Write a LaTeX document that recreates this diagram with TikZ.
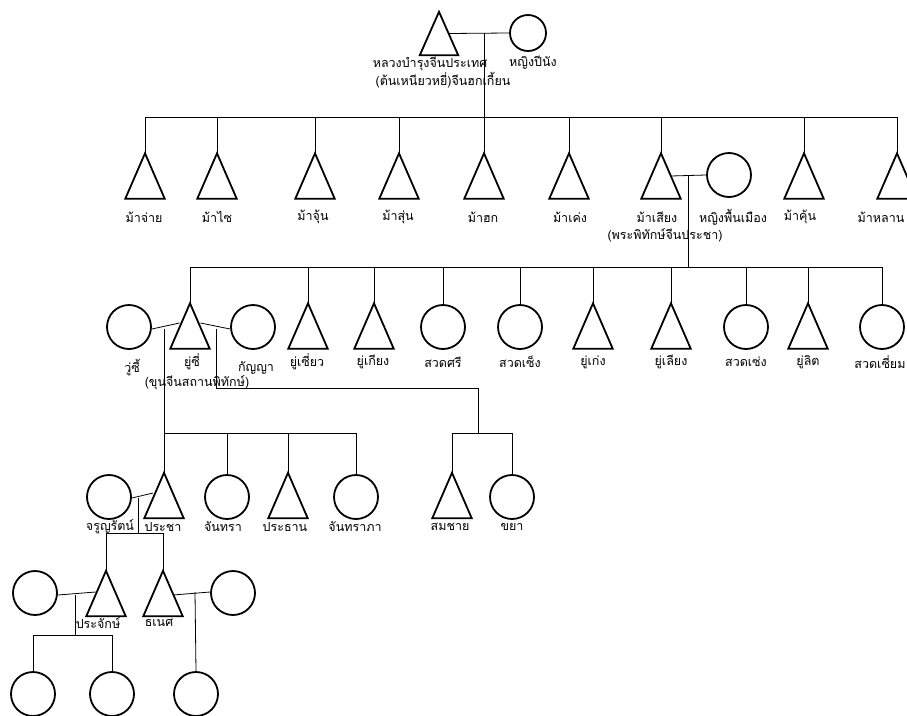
\documentclass[tikz,border=0pt]{standalone}
\usepackage{fontspec}
\newfontfamily\thaifont[Script=Thai]{Loma}
\usetikzlibrary{calc}
\begin{document}
\begin{tikzpicture}[x=1pt,y=-1pt,
  tri/.style={inner sep=0, minimum width=39pt, minimum height=45pt},
  trismall/.style={inner sep=0, minimum width=38pt, minimum height=43pt},
  circ/.style={circle, draw, line width=1.8pt, minimum size=44pt, inner sep=0},
  circsmall/.style={circ, minimum size=36pt},
  lbl/.style={font=\thaifont\fontsize{12.5}{14}\selectfont, inner sep=0},
  link/.style={line width=0.8pt},
  shapeline/.style={line width=1.8pt, line join=miter}
]
\useasboundingbox (0,0) rectangle (907,715);

% ---------- generation 0
\node[trismall] (p0) at (439,33.5) {};
\node[circsmall] (w0) at (528,33) {};
\node[lbl] (lp0a) at (430,64) {หลวงบำรุงจีนประเทศ};
\node[lbl] (lp0b) at (443,80) {(ต้นเหนียวหยี่)จีนฮกเกี้ยน};
\node[lbl] (lw0) at (533,63) {หญิงปีนัง};
\coordinate (m0) at (484,33);
\coordinate (b1) at (0,117);

% ---------- generation 1
\foreach \n/\x in {c1/145,c2/217,c3/315,c4/399,c5/484,c6/569,c7/661,c9/804,c10/897}
  \node[tri] (\n) at (\x,176) {};
\node[circ] (w1) at (729,175) {};
\foreach \n/\x/\t in {c1/144/ม้าจ่าย,c2/217/ม้าไซ,c3/313/ม้าจุ้น,c4/398/ม้าสุ่น,c5/483/ม้าฮก,c6/570/ม้าเค่ง,c7/657/ม้าเสียง,w1/733/หญิงพื้นเมือง,c9/800/ม้าคุ้น,c10/881/ม้าหลาน}
  \node[lbl] (l\n) at (\x,217) {\t};
\node[lbl] (lc7b) at (665,235) {(พระพิทักษ์จีนประชา)};
\coordinate (m1) at (688,176);
\coordinate (b2) at (0,267);

% ---------- generation 2
\node[circ] (k1) at (129,327) {};
\node[tri] (k2) at (190,326) {};
\node[circ] (k3) at (253,327) {};
\node[tri] (k4) at (308,326) {};
\node[tri] (k5) at (374,326) {};
\node[circ] (k6) at (443,327) {};
\node[circ] (k7) at (520,327) {};
\node[tri] (k8) at (593,326) {};
\node[tri] (k9) at (671,326) {};
\node[circ] (k10) at (746,327) {};
\node[tri] (k11) at (808,326) {};
\node[circ] (k12) at (882,327) {};
\node[lbl] (lk1) at (132,368) {วู่ซี้};
\node[lbl] (lk2) at (192,362) {ยู่ซี่};
\node[lbl] (lk2b) at (197,383) {(ขุนจีนสถานพิทักษ์)};
\node[lbl] (lk3) at (256,368) {กัญญา};
\foreach \n/\x/\t in {k4/307/ยู่เซี่ยว,k5/373/ยู่เกียง,k6/443/สวดศรี,k7/520/สวดเซ็ง,k8/593/ยู่เก่ง,k9/671/ยู่เลียง,k10/746/สวดเซ่ง,k11/808/ยู่ลิต,k12/880/สวดเซี่ยม}
  \node[lbl] (l\n) at (\x,362) {\t};
\coordinate (m2) at (164,329);
\coordinate (m3) at (216,329);
\coordinate (h3) at (478,388);
\coordinate (b3) at (0,433);

% ---------- generation 3
\node[circ] (g1) at (109,497) {};
\node[tri] (g2) at (164,495.5) {};
\node[circ] (g3) at (227,497) {};
\node[tri] (g4) at (288,495.5) {};
\node[circ] (g5) at (356,497) {};
\node[tri] (g6) at (452,495.5) {};
\node[circ] (g7) at (512,497) {};
\foreach \n/\x/\t in {g1/110/จรูญรัตน์,g2/163/ประชา,g3/223/จันทรา,g4/285/ประธาน,g5/355/จันทราภา,g6/450/สมชาย,g7/512/ขยา}
  \node[lbl] (l\n) at (\x,527) {\t};
\coordinate (m4) at (138,498);
\coordinate (b4) at (0,533);

% ---------- generation 4
\node[circ] (s1) at (35,593) {};
\node[tri] (d1) at (106,593.5) {};
\node[tri] (d2) at (163,593.5) {};
\node[circ] (s2) at (233,593) {};
\node[lbl] (ld1) at (98,623) {ประจักษ์};
\node[lbl] (ld2) at (159,623) {ธเนศ};
\coordinate (m5) at (75,595);
\coordinate (m6) at (195,592);
\coordinate (b5) at (0,635);

% ---------- generation 5
\node[circ] (e1) at (33,694) {};
\node[circ] (e2) at (112,694) {};
\node[circ] (e3) at (196,694) {};

% ---------- triangle outlines
\foreach \n in {p0,c1,c2,c3,c4,c5,c6,c7,c9,c10,k2,k4,k5,k8,k9,k11,g2,g4,g6,d1,d2}
  \draw[shapeline] (\n.south west) -- (\n.north) -- (\n.south east) -- cycle;

% ---------- connectors
% gen 0 -> 1
\draw[link] ($(p0.center)+(9.5pt,0)$) -- (w0.west);
\draw[link] (m0) -- (m0 |- b1);
\draw[link] (c1.north |- b1) -- (c10.north |- b1);
\foreach \n in {c1,c2,c3,c4,c5,c6,c7,c9,c10}
  \draw[link] (\n.north |- b1) -- (\n.north);
% gen 1 -> 2
\draw[link] ($(c7.center)+(9.8pt,0)$) -- (w1.west);
\draw[link] (m1) -- (m1 |- b2);
\draw[link] (k2.north |- b2) -- (k12.north |- b2);
\foreach \n in {k2,k4,k5,k6,k7,k8,k9,k10,k11,k12}
  \draw[link] (\n.north |- b2) -- (\n.north);
% gen 2 -> 3
\draw[link] (k1.east |- m2) -- ($(k2.center)+(-10.5pt,3pt)$);
\draw[link] ($(k2.center)+(10.5pt,3pt)$) -- (k3.west |- m3);
\draw[link] (m2) -- (g2.north);
\draw[link] (g2.north |- b3) -- (g5.north |- b3);
\foreach \n in {g3,g4,g5}
  \draw[link] (\n.north |- b3) -- (\n.north);
\draw[link] (m3) -- (m3 |- h3) -- (h3) -- (h3 |- b3);
\draw[link] (g6.north |- b3) -- (g7.north |- b3);
\foreach \n in {g6,g7}
  \draw[link] (\n.north |- b3) -- (\n.north);
% gen 3 -> 4
\draw[link] (g1.east |- m4) -- ($(g2.center)+(-11pt,2.5pt)$);
\draw[link] (m4) -- (m4 |- b4);
\draw[link] (d1.north |- b4) -- (d2.north |- b4);
\foreach \n in {d1,d2}
  \draw[link] (\n.north |- b4) -- (\n.north);
% gen 4 -> 5
\draw[link] (s1.east |- m5) -- ($(d1.center)+(-10.5pt,1.5pt)$);
\draw[link] (m5) -- (m5 |- b5);
\draw[link] (e1.north |- b5) -- (e2.north |- b5);
\foreach \n in {e1,e2}
  \draw[link] (\n.north |- b5) -- (\n.north);
\draw[link] ($(d2.center)+(10pt,-1.5pt)$) -- (s2.west |- m6);
\draw[link] (m6) -- (e3.north);
\end{tikzpicture}
\end{document}
